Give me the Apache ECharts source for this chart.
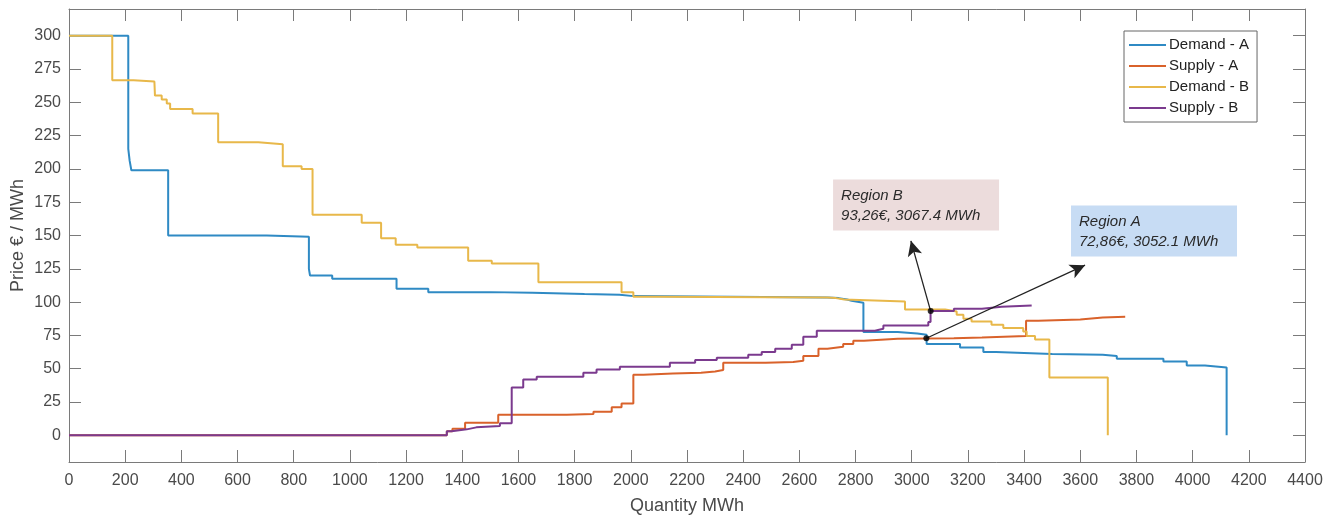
<!DOCTYPE html>
<html lang="en">
  <head>
    <meta charset="UTF-8" />
    <title>market clearing curves</title>
    <script src="https://cdn.jsdelivr.net/npm/echarts@6/dist/echarts.min.js"></script>
    <style>
      html, body { margin: 0; padding: 0; background: #fff; }
      #chart { width: 1339px; height: 519px; }
    </style>
  </head>
  <body>
    <div id="chart"></div>
    <script>
      // step curves, [quantity MWh, price €/MWh] - value holds from x until next point
      var demandA = [
        [0, 300], [211, 215], [216, 206], [222, 199], [353, 150], [704, 149], [854, 125], [858, 120],
        [937, 117.5], [1166, 110], [1279, 107.5], [1500, 107], [1650, 106], [1835, 105.5], [1960, 104.5],
        [2010, 103.5], [2700, 103], [2740, 102], [2770, 101], [2786, 99.5], [2828, 77.5], [2950, 76.5],
        [3020, 75.5], [3053, 68.5], [3172, 66], [3255, 62.5], [3300, 61], [3500, 60.5], [3680, 59.5],
        [3730, 57.5], [3896, 55.5], [3979, 52.5], [4044, 51], [4121, 0]
      ];
      var supplyA = [
        [0, 0], [1345, 3], [1365, 5], [1410, 9.5], [1528, 15.5], [1772, 16], [1867, 17.75], [1932, 21],
        [1967, 24], [2009, 45.5], [2045, 46.5], [2150, 47], [2250, 48], [2300, 49], [2329, 54.5],
        [2480, 55], [2578, 56], [2614, 59.5], [2668, 65], [2700, 66.5], [2756, 68.5], [2792, 71],
        [2830, 72.5], [2950, 72.7], [3050, 72.9], [3150, 73.5], [3250, 74.5], [3407, 86], [3450, 87],
        [3600, 88.5], [3680, 89], [3760, 89]
      ];
      var demandB = [
        [0, 300], [154, 266.5], [230, 265.5], [304, 264], [306, 255], [330, 252], [348, 249], [360, 245],
        [440, 241.5], [531, 220], [674, 218.5], [761, 202], [828, 200], [867, 165.5], [1042, 159.5],
        [1111, 148], [1163, 143], [1240, 141], [1421, 131], [1505, 129], [1671, 115], [1967, 107.5],
        [2009, 104], [2100, 103.5], [2700, 103], [2730, 102], [2760, 100.5], [2976, 94.5], [3119, 93],
        [3160, 90.5], [3184, 87.5], [3213, 85.5], [3284, 83], [3326, 80.5], [3397, 78], [3409, 74.5],
        [3439, 72], [3490, 43.5], [3698, 0]
      ];
      var supplyB = [
        [0, 0], [1345, 3], [1362, 4.5], [1416, 6], [1450, 7], [1534, 9], [1576, 36], [1617, 42],
        [1665, 44], [1831, 47], [1878, 49.5], [1961, 51.5], [2139, 54.5], [2229, 56.5], [2306, 58.25],
        [2418, 60.5], [2466, 62.5], [2514, 65], [2573, 68], [2614, 74], [2662, 78.5], [2869, 80],
        [2899, 82.5], [3059, 85], [3067, 93.3], [3150, 95], [3250, 96.5], [3320, 97.5], [3427, 97.5]
      ];

      var seriesNames = ['Demand - A', 'Supply - A', 'Demand - B', 'Supply - B'];
      var yTicks = [0, 25, 50, 75, 100, 125, 150, 175, 200, 225, 250, 275, 300];

      // clearing points and where their arrows point
      var clearPoints = [[3067.4, 93.26], [3052.1, 72.86]];
      var arrowEnds = [[2997, 146], [3617, 127.7]];
      var boxTexts = ['Region B\n93,26€, 3067.4 MWh', 'Region A\n72,86€, 3052.1 MWh'];
      var boxCorners = [[2720, 192], [3567, 172.5]];

      var chart = echarts.init(document.getElementById('chart'));
      var colors = ['#2f8ac4', '#d9622b', '#e8b84a', '#7b3a8e'];
      var axisColor = '#7a7a7a';
      var labelColor = '#4a4a4a';
      var font = 'Liberation Sans';

      function curve(name, data, color) {
        return {
          name: name,
          type: 'line',
          step: 'end',
          data: data,
          showSymbol: false,
          color: color,
          lineStyle: { width: 2 }
        };
      }

      function plain(v) {
        return String(v);
      }

      var option = {
        animation: false,
        textStyle: { fontFamily: font },
        grid: { left: 69, right: 34, top: 9, bottom: 57, outerBoundsMode: 'none', containLabel: false },
        legend: {
          data: seriesNames,
          orient: 'vertical',
          left: 1124,
          top: 31,
          padding: [6, 8, 6, 5],
          itemGap: 5,
          itemWidth: 37,
          itemHeight: 2,
          icon: 'rect',
          backgroundColor: '#fff',
          borderColor: '#666',
          borderWidth: 1,
          borderRadius: 0,
          selectedMode: false,
          textStyle: { fontSize: 15, color: '#222', lineHeight: 16, padding: [0, 0, 0, -2] }
        },
        xAxis: [
          {
            type: 'value',
            min: 0,
            max: 4400,
            interval: 200,
            name: 'Quantity MWh',
            nameLocation: 'middle',
            nameGap: 35,
            nameMoveOverlap: false,
            nameTextStyle: { fontSize: 18, color: labelColor },
            axisLine: { onZero: false, lineStyle: { color: axisColor } },
            axisTick: { inside: true, length: 12, lineStyle: { color: axisColor } },
            axisLabel: { fontSize: 16, color: labelColor, margin: 11, showMaxLabel: true, formatter: plain },
            splitLine: { show: false }
          },
          {
            type: 'value',
            position: 'top',
            min: 0,
            max: 4400,
            interval: 200,
            axisLine: { onZero: false, lineStyle: { color: axisColor } },
            axisTick: { inside: true, length: 12, lineStyle: { color: axisColor } },
            axisLabel: { show: false },
            splitLine: { show: false }
          }
        ],
        yAxis: [
          {
            type: 'value',
            min: -20,
            max: 320,
            name: 'Price € / MWh',
            nameLocation: 'middle',
            nameGap: 42,
            nameMoveOverlap: false,
            nameTextStyle: { fontSize: 18, color: labelColor },
            axisLine: { show: true, onZero: false, lineStyle: { color: axisColor } },
            axisTick: { show: true, inside: true, length: 12, customValues: yTicks, lineStyle: { color: axisColor } },
            axisLabel: { fontSize: 16, color: labelColor, margin: 8, customValues: yTicks, formatter: plain },
            splitLine: { show: false }
          },
          {
            type: 'value',
            position: 'right',
            min: -20,
            max: 320,
            axisLine: { show: true, onZero: false, lineStyle: { color: axisColor } },
            axisTick: { show: true, inside: true, length: 12, customValues: yTicks, lineStyle: { color: axisColor } },
            axisLabel: { show: false, customValues: yTicks },
            splitLine: { show: false }
          }
        ],
        series: [
          curve(seriesNames[0], demandA, colors[0]),
          curve(seriesNames[1], supplyA, colors[1]),
          curve(seriesNames[2], demandB, colors[2]),
          curve(seriesNames[3], supplyB, colors[3]),
          {
            name: 'clearing',
            type: 'scatter',
            data: clearPoints,
            symbolSize: 6,
            itemStyle: { color: '#000' },
            z: 5,
            markLine: {
              silent: true,
              symbol: ['none', 'arrow'],
              symbolSize: [11, 15],
              label: { show: false },
              lineStyle: { color: '#222', width: 1.3, type: 'solid' },
              data: clearPoints.map(function (p, i) {
                return [{ coord: p }, { coord: arrowEnds[i] }];
              })
            }
          }
        ]
      };

      chart.setOption(option);

      // annotation boxes pinned to data coordinates
      var boxFill = ['#ecdcdc', '#c7dcf4'];
      var graphics = [];
      for (var i = 0; i < boxTexts.length; i++) {
        var p = chart.convertToPixel({ gridIndex: 0 }, boxCorners[i]);
        graphics.push({
          type: 'rect',
          shape: { x: p[0], y: p[1], width: 166, height: 51 },
          style: { fill: boxFill[i] },
          z: 10
        });
        graphics.push({
          type: 'text',
          x: p[0] + 8,
          y: p[1] + 6,
          style: {
            text: boxTexts[i],
            font: 'italic 15px "Liberation Sans"',
            fill: '#2a2a2a',
            lineHeight: 20,
            verticalAlign: 'top'
          },
          z: 11
        });
      }
      chart.setOption({ graphic: graphics });
    </script>
  </body>
</html>
